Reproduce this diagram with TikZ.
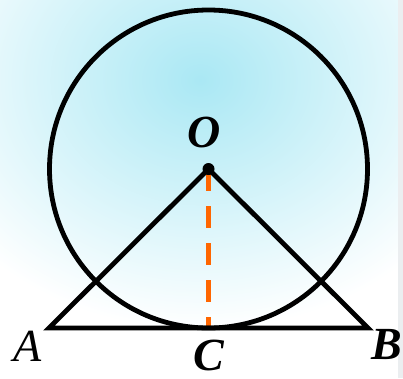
\documentclass[tikz,border=0pt]{standalone}
\usepackage{fontspec}
\setmainfont{Liberation Serif}
\definecolor{bgblue}{RGB}{170,232,244}
\definecolor{segorange}{RGB}{255,102,0}
\definecolor{edgegray}{RGB}{235,238,240}
\begin{document}
\begin{tikzpicture}[x=1pt,y=-1pt,
  geo/.style={line width=4.8pt,black},
  lab/.style={font=\fontsize{46}{46}\selectfont\bfseries\itshape,inner sep=0pt,anchor=center},
  labthin/.style={font=\fontsize{46}{46}\selectfont\itshape,inner sep=0pt,anchor=center},
  dashseg/.style={line width=5pt,segorange,dash pattern=on 22pt off 15pt}]
\useasboundingbox (0,0) rectangle (403,378);
\fill[white] (0,0) rectangle (403,378);
\begin{scope}
\clip (0,0) rectangle (398,378);
\shade[inner color=bgblue,outer color=white,draw=none] (200,80) ellipse [x radius=300,y radius=250];
\end{scope}
\fill[edgegray] (398,0) rectangle (403,378);
\coordinate (O) at (208.5,169);
\coordinate (A) at (49,328);
\coordinate (B) at (368,328);
\coordinate (C) at (208.5,328);
\draw[dashseg] (O) -- (C);
\draw[geo] (O) circle [radius=159];
\draw[geo,line join=miter] (A) -- (O) -- (B) -- cycle;
\fill (O) circle [radius=6];
\node[lab] (lO) at (204,132) {O};
\node[labthin] (lA) at (28,346) {A};
\node[lab] (lB) at (387,344) {B};
\node[lab] (lC) at (209,355) {C};
\end{tikzpicture}
\end{document}
